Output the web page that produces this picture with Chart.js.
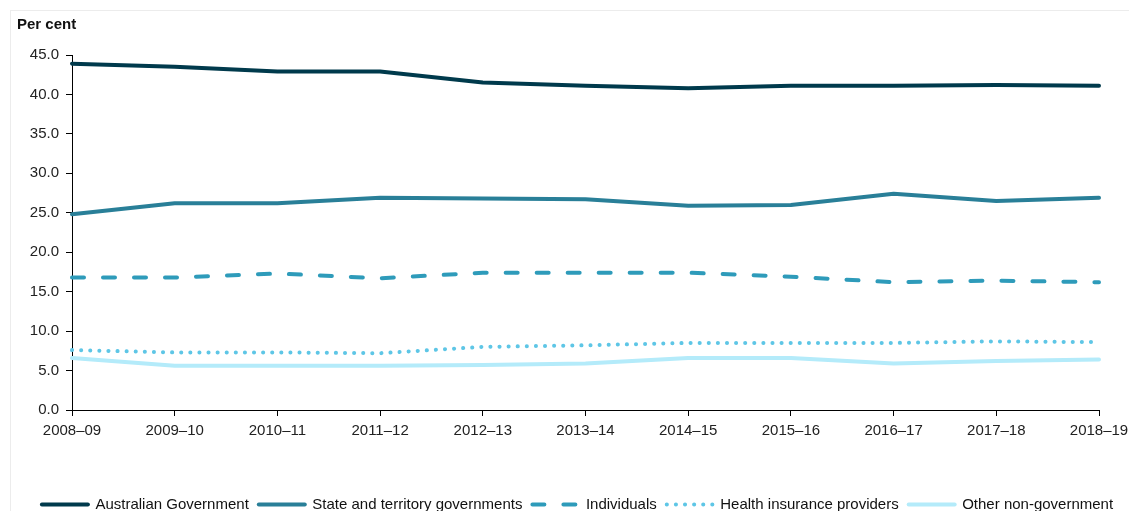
<!DOCTYPE html>
<html>
<head>
    <meta charset="utf-8" />
    <style>
        html, body { margin: 0; padding: 0; background: #fff; overflow: hidden; }
        .frame { position: absolute; left: 10px; top: 10px; width: 1300px; height: 700px; border: 1px solid #ececec; }
        .wrap { position: absolute; left: 0; top: 0; width: 1129px; height: 526px; }
        .unidad { position: absolute; left: 17px; top: 15px; font: bold 15px "Liberation Sans", Arial, sans-serif; color: #111; }
    </style>
</head>
<body>
    <div class="frame"></div>
    <div class="wrap"><canvas id="chart"></canvas></div>
    <div class="unidad">Per cent</div>

    <script src="https://cdn.jsdelivr.net/npm/chart.js"></script>
    <script type="text/javascript">
        // datos
        var years = ['2008–09', '2009–10', '2010–11', '2011–12', '2012–13', '2013–14', '2014–15', '2015–16', '2016–17', '2017–18', '2018–19'];
        var australianGov = [43.9, 43.5, 42.9, 42.9, 41.5, 41.1, 40.8, 41.1, 41.1, 41.2, 41.1];
        var stateGov = [24.8, 26.2, 26.2, 26.9, 26.8, 26.7, 25.9, 26.0, 27.4, 26.5, 26.9];
        var individuals = [16.8, 16.8, 17.3, 16.7, 17.4, 17.4, 17.4, 16.9, 16.2, 16.4, 16.2];
        var healthInsurance = [7.6, 7.3, 7.3, 7.2, 8.0, 8.2, 8.5, 8.5, 8.5, 8.7, 8.6];
        var otherNonGov = [6.6, 5.6, 5.6, 5.6, 5.7, 5.9, 6.6, 6.6, 5.9, 6.2, 6.4];
        var yTicks = [0, 5, 10, 15, 20, 25, 30, 35, 40, 45];

        Chart.defaults.font.family = '"Liberation Sans", Arial, sans-serif';
        Chart.defaults.font.size = 15;
        Chart.defaults.color = '#222';

        function serie(label, data, color, dash) {
            return {
                label: label,
                data: data,
                borderColor: color,
                backgroundColor: color,
                borderWidth: 4,
                borderDash: dash,
                borderCapStyle: 'round',
                borderJoinStyle: 'round',
                pointRadius: 0,
                tension: 0
            };
        }

        var ctx = document.getElementById('chart').getContext('2d');
        var myChart = new Chart(ctx, {
            type: 'line',
            data: {
                labels: years,
                datasets: [
                    serie('Australian Government', australianGov, '#003a4c', []),
                    serie('State and territory governments', stateGov, '#297f98', []),
                    serie('Individuals', individuals, '#2e9bba', [12, 19]),
                    serie('Health insurance providers', healthInsurance, '#5ec6e6', [0.1, 9]),
                    serie('Other non-government', otherNonGov, '#b4ebfa', [])
                ]
            },
            options: {
                responsive: true,
                maintainAspectRatio: false,
                animation: false,
                layout: { padding: { left: 26, right: 0, bottom: 4, top: 55 } },
                plugins: {
                    title: { display: false },
                    legend: {
                        position: 'bottom',
                        labels: {
                            usePointStyle: true,
                            pointStyle: 'line',
                            pointStyleWidth: 46,
                            boxHeight: 15,
                            padding: 10,
                            color: '#111',
                            font: { size: 15 },
                            // el estilo de punto no trae el borderDash, se copia del dataset
                            generateLabels: function (chart) {
                                var items = Chart.defaults.plugins.legend.labels.generateLabels(chart);
                                items.forEach(function (item) {
                                    var ds = chart.data.datasets[item.datasetIndex];
                                    item.lineDash = ds.borderDash;
                                    item.lineCap = 'round';
                                    item.lineWidth = 4;
                                });
                                return items;
                            }
                        }
                    },
                    tooltip: { enabled: false }
                },
                scales: {
                    x: {
                        offset: false,
                        grid: { display: true, drawOnChartArea: false, drawTicks: true, tickLength: 6, color: '#000' },
                        border: { color: '#000', width: 1 },
                        ticks: { maxRotation: 0, autoSkip: false, padding: 6, color: '#222' },
                        afterFit: function (scale) {
                            scale.height = 77;
                            scale.paddingLeft = 0;
                            scale.paddingRight = 30;
                        }
                    },
                    y: {
                        min: 0,
                        max: 45,
                        afterBuildTicks: function (scale) {
                            scale.ticks = yTicks.map(function (v) { return { value: v }; });
                        },
                        grid: { display: true, drawOnChartArea: false, drawTicks: true, tickLength: 6, color: '#000' },
                        border: { color: '#000', width: 1 },
                        ticks: {
                            padding: 7,
                            color: '#222',
                            callback: function (v) { return Number(v).toFixed(1); }
                        },
                        afterFit: function (scale) {
                            scale.width = 46;
                            scale.paddingTop = 0;
                        }
                    }
                }
            }
        });
    </script>
</body>
</html>
